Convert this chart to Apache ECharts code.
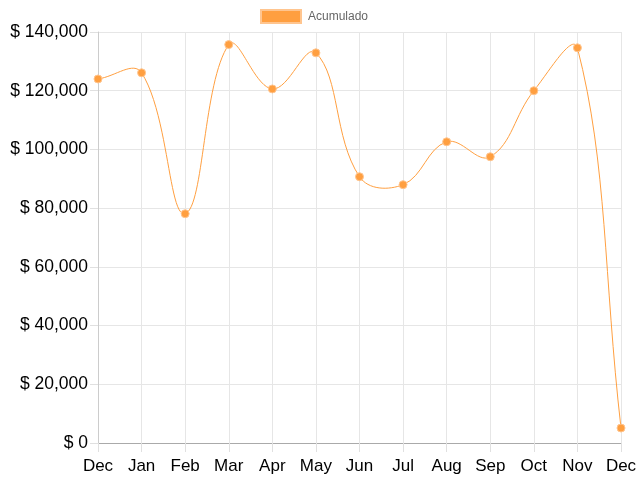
<!DOCTYPE html>
<html>
<head>
<meta charset="utf-8">
<script src="https://cdn.jsdelivr.net/npm/echarts@6/dist/echarts.min.js"></script>
<style>html,body{margin:0;padding:0;background:#fff}#c{width:640px;height:480px}</style>
</head>
<body>
<div id="c"></div>
<script>
var categories = ['Dec','Jan','Feb','Mar','Apr','May','Jun','Jul','Aug','Sep','Oct','Nov','Dec'];
var seriesName = 'Acumulado';
var values = [124000,126100,78100,135700,120600,132900,90700,88000,102600,97500,120000,134600,5100];
var yMin = 0, yMax = 140000, yStep = 20000;
var tension = 0.4;

function splinePath(params, api) {
  if (params.dataIndex !== 0) return null;
  var cs = params.coordSys;
  var pts = values.map(function (v, i) { return api.coord([i, v]); });
  var n = pts.length, cps = [];
  for (var i = 0; i < n; i++) {
    var c = pts[i], p = pts[i - 1] || c, nx = pts[i + 1] || c;
    var d01 = Math.hypot(c[0] - p[0], c[1] - p[1]);
    var d12 = Math.hypot(nx[0] - c[0], nx[1] - c[1]);
    var s01 = d01 / (d01 + d12), s12 = d12 / (d01 + d12);
    if (isNaN(s01)) s01 = 0; if (isNaN(s12)) s12 = 0;
    var fa = tension * s01, fb = tension * s12;
    var prevCP = [c[0] - fa * (nx[0] - p[0]), c[1] - fa * (nx[1] - p[1])];
    var nextCP = [c[0] + fb * (nx[0] - p[0]), c[1] + fb * (nx[1] - p[1])];
    [prevCP, nextCP].forEach(function (q) {
      q[0] = Math.max(cs.x, Math.min(cs.x + cs.width, q[0]));
      q[1] = Math.max(cs.y, Math.min(cs.y + cs.height, q[1]));
    });
    cps.push({prev: prevCP, next: nextCP});
  }
  var d = 'M' + pts[0][0] + ' ' + pts[0][1];
  for (var j = 1; j < n; j++) {
    var a = cps[j - 1].next, b = cps[j].prev;
    d += ' C' + a[0] + ' ' + a[1] + ' ' + b[0] + ' ' + b[1] + ' ' + pts[j][0] + ' ' + pts[j][1];
  }
  return {
    type: 'path',
    shape: {pathData: d},
    style: {fill: null, stroke: '#ff9f40', lineWidth: 1}
  };
}

var chart = echarts.init(document.getElementById('c'), null, {renderer:'canvas'});
chart.setOption({
  animation:false,
  legend:{
    data:[seriesName], top:4, left:255, icon:'rect', itemWidth:40, itemHeight:13, itemGap:10,
    textStyle:{color:'#666', fontSize:12, fontFamily:'Liberation Sans', padding:[0,0,0,2]}
  },
  grid:{left:98, right:19, top:32, bottom:37, containLabel:false},
  xAxis:{
    type:'category', data:categories, boundaryGap:false,
    axisLine:{show:true, lineStyle:{color:'#aaa', width:1}},
    axisTick:{show:true, length:9, lineStyle:{color:'#e0e0e0'}},
    axisLabel:{color:'#000', fontSize:17, fontFamily:'Liberation Sans', margin:15, interval:0},
    splitLine:{show:true, lineStyle:{color:'#e6e6e6'}}
  },
  yAxis:{
    type:'value', min:yMin, max:yMax, interval:yStep,
    axisLine:{show:true, lineStyle:{color:'#ccc'}},
    axisTick:{show:true, length:8, lineStyle:{color:'#e0e0e0'}},
    axisLabel:{color:'#000', fontSize:17.5, fontFamily:'Liberation Sans', margin:10,
      formatter:function(v){return '$ ' + v.toLocaleString('en-US');}},
    splitLine:{show:true, lineStyle:{color:'#e6e6e6'}}
  },
  series:[{
    type:'custom', silent:true, renderItem:splinePath,
    data: values.map(function (v, i) { return [i, v]; }),
    encode:{x:0, y:1}, z:2
  },{
    name:seriesName, type:'line', data:values,
    symbol:'circle', symbolSize:8, showSymbol:true,
    lineStyle:{color:'#ff9f40', width:0, opacity:0},
    itemStyle:{color:'#ff9f40', borderColor:'#ffc58f', borderWidth:1}, z:3
  }]
});
</script>
</body>
</html>
